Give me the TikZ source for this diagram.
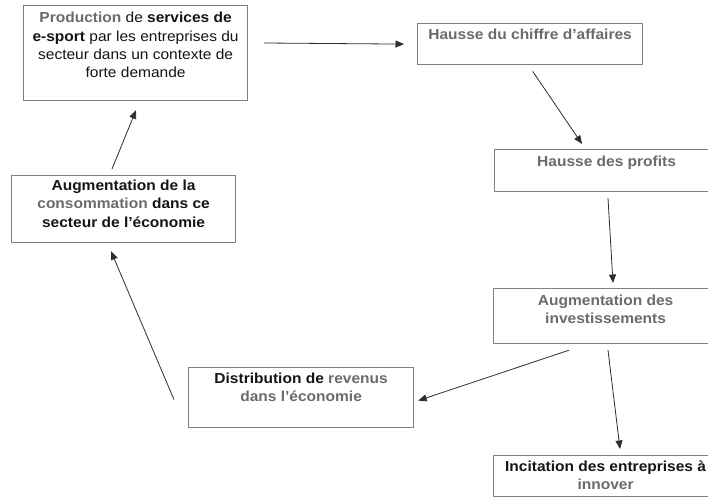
\documentclass[tikz,border=0pt]{standalone}
\usepackage{fontspec}
\setmainfont{Liberation Sans}[FakeStretch=1.07]
\usetikzlibrary{arrows.meta,calc}

\definecolor{txtgray}{HTML}{6B6B6B}
\definecolor{txtdark}{HTML}{151515}
\definecolor{framegray}{HTML}{808080}
\definecolor{arrowdark}{HTML}{2E2E2E}

% box body: width, height, gap above first line, content
\newcommand\boxbody[4]{%
  \parbox[t][#2][t]{#1}{\centering\fontsize{14.5}{18.3}\selectfont\color{txtdark}%
    \vspace*{#3}\rule{0pt}{14pt}#4}}
\newcommand\gr[1]{{\color{txtgray}#1}}

\tikzset{
  frame/.style={draw=framegray, line width=1.2pt, inner sep=0pt, anchor=north west},
  flow/.style={draw=arrowdark, line width=0.8pt, -{Triangle[length=8.5pt,width=7pt]}}
}

\begin{document}
\begin{tikzpicture}[x=1pt,y=-1pt]
\useasboundingbox (0,0) rectangle (708,497);
\clip (0,0) rectangle (708,497);
\fill[white] (0,0) rectangle (708,497);

% the seven stages of the cycle
\node[frame] (b1) at (23,5) {\boxbody{224pt}{95pt}{3.3pt}{%
  \textbf{\gr{Production}} de \textbf{services de}\\
  \textbf{e-sport} par les entreprises du\\
  secteur dans un contexte de\\
  forte demande}};
\node[frame] (b2) at (417,23) {\boxbody{225pt}{41pt}{2pt}{%
  \textbf{\gr{Hausse du chiffre d’affaires}}}};
\node[frame] (b3) at (494,149) {\boxbody{224pt}{42pt}{3pt}{%
  \textbf{\gr{Hausse des profits}}}};
\node[frame] (b4) at (11,175) {\boxbody{224pt}{67pt}{1pt}{%
  \textbf{Augmentation de la}\\
  \textbf{\gr{consommation} dans ce}\\
  \textbf{secteur de l’économie}}};
\node[frame] (b5) at (493,288) {\boxbody{224pt}{55pt}{3pt}{%
  \textbf{\gr{Augmentation des}}\\
  \textbf{\gr{investissements}}}};
\node[frame] (b6) at (493,455) {\boxbody{224pt}{41pt}{1.7pt}{%
  \textbf{Incitation des entreprises à}\\
  \textbf{\gr{innover}}}};
\node[frame] (b7) at (188,367) {\boxbody{225pt}{60pt}{1.7pt}{%
  \textbf{Distribution de \gr{revenus}}\\
  \textbf{\gr{dans l’économie}}}};

% connectors
\draw[flow] ($(b1.north east)+(16,38)$) -- ($(b2.west)+(-13,0)$);
\draw[flow] ($(b2.south)+(2.5,6)$) -- ($(b3.north west)+(88,-5)$);
\draw[flow] ($(b3.south west)+(114,6)$) -- ($(b5.north west)+(120,-5)$);
\draw[flow] ($(b5.south west)+(76,6)$) -- ($(b7.east)+(4,3)$);
\draw[flow] ($(b5.south west)+(115,6)$) -- ($(b6.north west)+(127,-6)$);
\draw[flow] ($(b7.west)+(-14,2)$) -- ($(b4.south west)+(100,8)$);
\draw[flow] ($(b4.north west)+(101,-6)$) -- ($(b1.south west)+(113,9)$);
\end{tikzpicture}
\end{document}
